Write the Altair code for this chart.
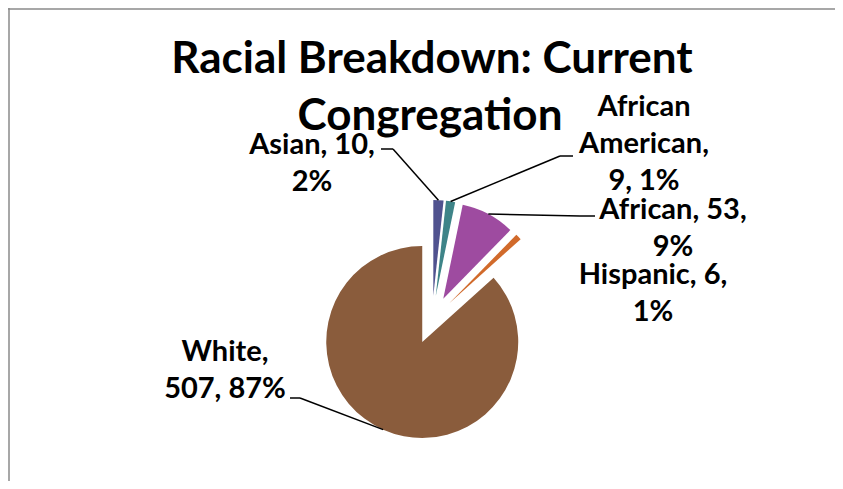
import altair as alt
import pandas as pd

# ---- data ----
categories = ["Asian", "African American", "African", "Hispanic", "White"]
counts = [10, 9, 53, 6, 507]
label_lines = ["Asian, 10,\n2%", "African\nAmerican,\n9, 1%", "African, 53,\n9%",
               "Hispanic, 6,\n1%", "White,\n507, 87%"]
title_lines = ["Racial Breakdown: Current", "Congregation"]

# ---- styles / layout (screen pixels, converted to plot coords below) ----
colors = ["#50528F", "#3E8488", "#9E4BA0", "#D16A2B", "#8A5C3C"]
FONT = "Lato"
OX, OY = 8, 8            # screen position of the plot origin
W, H = 843 - 2 * OX, 489 - 2 * OY
SCX, SCY, R, EXPLODE = 432, 320, 96, 24
# first-line centre of each label (screen)
label_x = [312, 644, 673, 653, 225]
label_y = [145, 107, 210, 275, 352]
# leader elbow and end points (screen); None = no leader
elbow_x = [393, 560, 580, None, 300]
elbow_y = [149, 156, 216, None, 398]
end_x = [381, 573, 595, None, 290]
end_y = [149, 156, 216, None, 398]

def sx(v):
    return None if v is None else v - OX

def sy(v):
    return None if v is None else v - OY

CX, CY = sx(SCX), sy(SCY)

df = pd.DataFrame({
    "cat": categories, "value": counts, "order": range(len(categories)),
    "label": label_lines,
    "lx": [sx(v) for v in label_x], "ly": [sy(v) for v in label_y],
    "ex": [sx(v) for v in elbow_x], "ey": [sy(v) for v in elbow_y],
    "tx": [sx(v) for v in end_x], "ty": [sy(v) for v in end_y],
})

base = alt.Chart(df).transform_joinaggregate(
    total="sum(value)"
).transform_window(
    cum="sum(value)", sort=[alt.SortField("order")], frame=[None, 0]
).transform_calculate(
    a1="2*PI*(datum.cum - datum.value)/datum.total",
    a2="2*PI*datum.cum/datum.total",
).transform_calculate(
    mid="(datum.a1 + datum.a2)/2"
).transform_calculate(
    cx=f"{CX} + {EXPLODE}*sin(datum.mid)",
    cy=f"{CY} - {EXPLODE}*cos(datum.mid)",
    px=f"{CX} + {EXPLODE + R}*sin(datum.mid)",
    py=f"{CY} - {EXPLODE + R}*cos(datum.mid)",
)

pie = base.mark_arc(radius=R).encode(
    theta=alt.Theta("a1:Q", scale=None),
    theta2="a2:Q",
    x=alt.X("cx:Q", scale=None),
    y=alt.Y("cy:Q", scale=None),
    color=alt.Color("cat:N", scale=alt.Scale(domain=categories, range=colors), legend=None),
)

leaders = base.transform_filter("isValid(datum.ex)")
lead1 = leaders.mark_rule(color="black", strokeWidth=1.5).encode(
    x=alt.X("px:Q", scale=None), y=alt.Y("py:Q", scale=None),
    x2="ex:Q", y2="ey:Q",
)
lead2 = leaders.mark_rule(color="black", strokeWidth=1.5).encode(
    x=alt.X("ex:Q", scale=None), y=alt.Y("ey:Q", scale=None),
    x2="tx:Q", y2="ty:Q",
)

labels = alt.Chart(df).mark_text(
    font=FONT, fontWeight="bold", fontSize=29, lineBreak="\n", lineHeight=37,
    align="center", baseline="middle", color="black",
).encode(
    x=alt.X("lx:Q", scale=None), y=alt.Y("ly:Q", scale=None), text="label:N",
)

title_df = pd.DataFrame({"t": title_lines, "x": [sx(432), sx(430)], "y": [sy(60), sy(117)]})
title = alt.Chart(title_df).mark_text(
    font=FONT, fontWeight="bold", fontSize=44, align="center", baseline="middle", color="black",
).encode(x=alt.X("x:Q", scale=None), y=alt.Y("y:Q", scale=None), text="t:N")

border_df = pd.DataFrame({"x": [0, 1], "y": [1, 0], "x2": [W, 1], "y2": [1, H]})
border = alt.Chart(border_df).mark_rule(color="#8a8a8a", strokeWidth=1.5).encode(
    x=alt.X("x:Q", scale=None), y=alt.Y("y:Q", scale=None), x2="x2:Q", y2="y2:Q",
)

chart = alt.layer(border, pie, lead1, lead2, labels, title).properties(
    width=W, height=H, padding=0,
    autosize=alt.AutoSizeParams(type="none"),
    background="white",
).configure_view(stroke=None)

chart.save("out.html", embed_options={"renderer": "svg", "actions": False})
